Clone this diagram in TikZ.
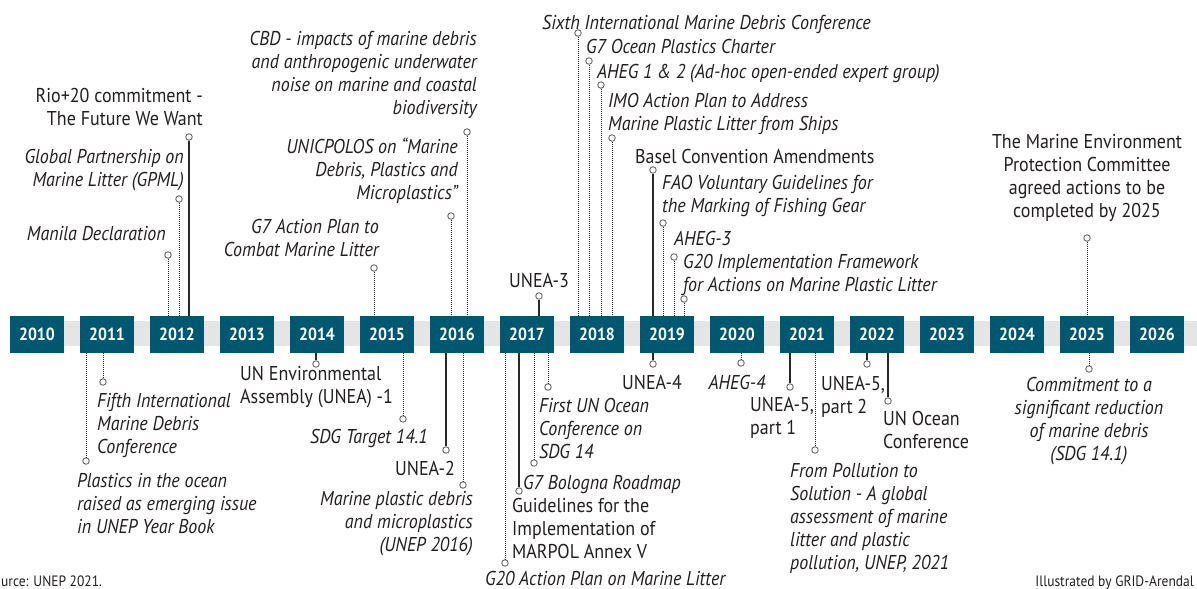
\documentclass[tikz,border=0pt]{standalone}
\usepackage{fontspec}
\setmainfont[FakeStretch=0.9]{PT Sans}
\definecolor{boxteal}{RGB}{0,88,112}
\definecolor{bandgrey}{RGB}{229,229,229}
\definecolor{txt}{RGB}{35,31,32}
\definecolor{circgrey}{RGB}{105,105,105}
\definecolor{linec}{RGB}{40,40,40}
\newcommand\tstrut{\rule{0pt}{16pt}}
\begin{document}
\begin{tikzpicture}[x=1pt,y=-1pt,
  yearbox/.style={rectangle, fill=boxteal, text=white, font=\fontsize{17.5}{20}\selectfont\bfseries, minimum width=54pt, minimum height=37pt, inner sep=0pt},
  dotc/.style={circle, draw=circgrey, fill=white, line width=0.9pt, minimum size=6.5pt, inner sep=0pt},
  solidl/.style={draw=linec, line width=1.5pt},
  dotl/.style={draw=linec, line width=1pt, dash pattern=on 1pt off 1pt},
  up/.style={inner sep=0pt, text=txt, font=\fontsize{20}{23}\selectfont, execute at begin node=\tstrut},
  it/.style={inner sep=0pt, text=txt, font=\fontsize{20}{23}\selectfont\itshape, execute at begin node=\tstrut},
  small/.style={inner sep=0pt, text=txt, font=\fontsize{15}{17}\selectfont}
]
\useasboundingbox (0,0) rectangle (1197,589);
\clip (0,0) rectangle (1197,589);
\fill[white] (0,0) rectangle (1197,589);
% band
\fill[bandgrey] (10,321) rectangle (1197,346);
% year boxes
\foreach \yr [count=\k from 0] in {2010,...,2026}
  \node[yearbox] (y\yr) at (37+70*\k,334.5) {\yr};

% circles
\node[dotc] (c1) at (189,137) {};
\node[dotc] (c2) at (179,199) {};
\node[dotc] (c3) at (168,255) {};
\node[dotc] (c4) at (374,268) {};
\node[dotc] (c5) at (451,216) {};
\node[dotc] (c6) at (467,132) {};
\node[dotc] (c7) at (539,296) {};
\node[dotc] (c8) at (578,33) {};
\node[dotc] (c9) at (589,61) {};
\node[dotc] (c10) at (601,85) {};
\node[dotc] (c11) at (612,138) {};
\node[dotc] (c12) at (653,170) {};
\node[dotc] (c13) at (663,223) {};
\node[dotc] (c14) at (674,257) {};
\node[dotc] (c15) at (684,299) {};
\node[dotc] (c16) at (1087,238) {};
\node[dotc] (c17) at (86,461) {};
\node[dotc] (c18) at (103,382) {};
\node[dotc] (c19) at (316,364) {};
\node[dotc] (c20) at (403,419) {};
\node[dotc] (c21) at (446,450) {};
\node[dotc] (c22) at (463,485) {};
\node[dotc] (c23) at (505,563) {};
\node[dotc] (c24) at (519,491) {};
\node[dotc] (c25) at (534,463) {};
\node[dotc] (c26) at (548,387) {};
\node[dotc] (c27) at (653,364) {};
\node[dotc] (c28) at (741,363) {};
\node[dotc] (c29) at (790,387) {};
\node[dotc] (c30) at (815,450) {};
\node[dotc] (c31) at (867,364) {};
\node[dotc] (c32) at (888,401) {};
\node[dotc] (c33) at (1089,369) {};

% connectors above the timeline
\draw[solidl] (c1.south) -- (c1.south |- y2012.north);
\draw[dotl] (c2.south) -- (c2.south |- y2012.north);
\draw[dotl] (c3.south) -- (c3.south |- y2012.north);
\draw[dotl] (c4.south) -- (c4.south |- y2015.north);
\draw[dotl] (c5.south) -- (c5.south |- y2016.north);
\draw[dotl] (c6.south) -- (c6.south |- y2016.north);
\draw[solidl] (c7.south) -- (c7.south |- y2017.north);
\draw[dotl] (c8.south) -- (c8.south |- y2018.north);
\draw[dotl] (c9.south) -- (c9.south |- y2018.north);
\draw[dotl] (c10.south) -- (c10.south |- y2018.north);
\draw[dotl] (c11.south) -- (c11.south |- y2018.north);
\draw[solidl] (c12.south) -- (c12.south |- y2019.north);
\draw[dotl] (c13.south) -- (c13.south |- y2019.north);
\draw[dotl] (c14.south) -- (c14.south |- y2019.north);
\draw[dotl] (c15.south) -- (c15.south |- y2019.north);
\draw[dotl] (c16.south) -- (c16.south |- y2025.north);
% connectors below the timeline
\draw[dotl] (y2011.south -| c17.north) -- (c17.north);
\draw[dotl] (y2011.south -| c18.north) -- (c18.north);
\draw[solidl] (y2014.south -| c19.north) -- (c19.north);
\draw[dotl] (y2015.south -| c20.north) -- (c20.north);
\draw[solidl] (y2016.south -| c21.north) -- (c21.north);
\draw[dotl] (y2016.south -| c22.north) -- (c22.north);
\draw[dotl] (y2017.south -| c23.north) -- (c23.north);
\draw[solidl] (y2017.south -| c24.north) -- (c24.north);
\draw[dotl] (y2017.south -| c25.north) -- (c25.north);
\draw[dotl] (y2017.south -| c26.north) -- (c26.north);
\draw[solidl] (y2019.south -| c27.north) -- (c27.north);
\draw[dotl] (y2020.south -| c28.north) -- (c28.north);
\draw[solidl] (y2021.south -| c29.north) -- (c29.north);
\draw[dotl] (y2021.south -| c30.north) -- (c30.north);
\draw[solidl] (y2022.south -| c31.north) -- (c31.north);
\draw[solidl] (y2022.south -| c32.north) -- (c32.north);
\draw[dotl] (y2025.south -| c33.north) -- (c33.north);

% labels above
\node[up, align=right, anchor=north east] (l1) at (203,88) {Rio+20 commitment -\\The Future We Want};
\node[it, align=right, anchor=north east] (l2) at (184,149) {Global Partnership on\\Marine Litter (GPML)};
\node[it, align=right, anchor=north east] (l3) at (166,224) {Manila Declaration};
\node[it, align=right, anchor=north east] (l4) at (379,219) {G7 Action Plan to\\Combat Marine Litter};
\node[it, align=right, anchor=north east] (l5) at (458,138) {UNICPOLOS on “Marine\\Debris, Plastics and\\Microplastics”};
\node[it, align=right, anchor=north east] (l6) at (477,31) {CBD - impacts of marine debris\\and anthropogenic underwater\\noise on marine and coastal\\biodiversity};
\node[up, align=center, anchor=north] (l7) at (539,271) {UNEA-3};
\node[it, align=left, anchor=north west] (l8) at (542,13) {Sixth International Marine Debris Conference};
\node[it, align=left, anchor=north west] (l9) at (586,37) {G7 Ocean Plastics Charter};
\node[it, align=left, anchor=north west] (l10) at (597,62) {AHEG 1 \& 2 (Ad-hoc open-ended expert group)};
\node[it, align=left, anchor=north west] (l11) at (608,93) {IMO Action Plan to Address\\Marine Plastic Litter from Ships};
\node[up, align=left, anchor=north west] (l12) at (635,147) {Basel Convention Amendments};
\node[it, align=left, anchor=north west] (l13) at (662,175) {FAO Voluntary Guidelines for\\the Marking of Fishing Gear};
\node[it, align=left, anchor=north west] (l14) at (674,229) {AHEG-3};
\node[it, align=left, anchor=north west] (l15) at (683,254) {G20 Implementation Framework\\for Actions on Marine Plastic Litter};
\node[up, align=center, anchor=north] (l16) at (1087,134) {The Marine Environment\\Protection Committee\\agreed actions to be\\completed by 2025};

% labels below
\node[it, align=left, anchor=north west] (l17) at (77,473) {Plastics in the ocean\\raised as emerging issue\\in UNEP Year Book};
\node[it, align=left, anchor=north west] (l18) at (97,393) {Fifth International\\Marine Debris\\Conference};
\node[up, align=left, anchor=north west] (l19) at (240,366) {UN Environmental\\Assembly (UNEA) -1};
\node[it, align=left, anchor=north west] (l20) at (310,427) {SDG Target 14.1};
\node[up, align=right, anchor=north east] (l21) at (455,459) {UNEA-2};
\node[it, align=right, anchor=north east] (l22) at (473,491) {Marine plastic debris\\and microplastics\\(UNEP 2016)};
\node[it, align=left, anchor=north west] (l23) at (485,569) {G20 Action Plan on Marine Litter};
\node[up, align=left, anchor=north west] (l24) at (512,498) {Guidelines for the\\Implementation of\\MARPOL Annex V};
\node[it, align=left, anchor=north west] (l25) at (523,473) {G7 Bologna Roadmap};
\node[it, align=left, anchor=north west] (l26) at (539,398) {First UN Ocean\\Conference on\\SDG 14};
\node[up, align=center, anchor=north] (l27) at (652,373) {UNEA-4};
\node[it, align=center, anchor=north] (l28) at (737,373) {AHEG-4};
\node[up, align=left, anchor=north west] (l29) at (750,397) {UNEA-5,\\part 1};
\node[it, align=left, anchor=north west] (l30) at (790,463) {From Pollution to\\Solution - A global\\assessment of marine\\litter and plastic\\pollution, UNEP, 2021};
\node[up, align=left, anchor=north west] (l31) at (821,376) {UNEA-5,\\part 2};
\node[up, align=left, anchor=north west] (l32) at (883,411) {UN Ocean\\Conference};
\node[it, align=center, anchor=north] (l33) at (1089,377) {Commitment to a\\significant reduction\\of marine debris\\(SDG 14.1)};

% credits
\node[small, anchor=west] (src) at (1,581) {urce: UNEP 2021.};
\node[small, anchor=east] (ill) at (1194,583) {Illustrated by GRID-Arendal};
\end{tikzpicture}
\end{document}
